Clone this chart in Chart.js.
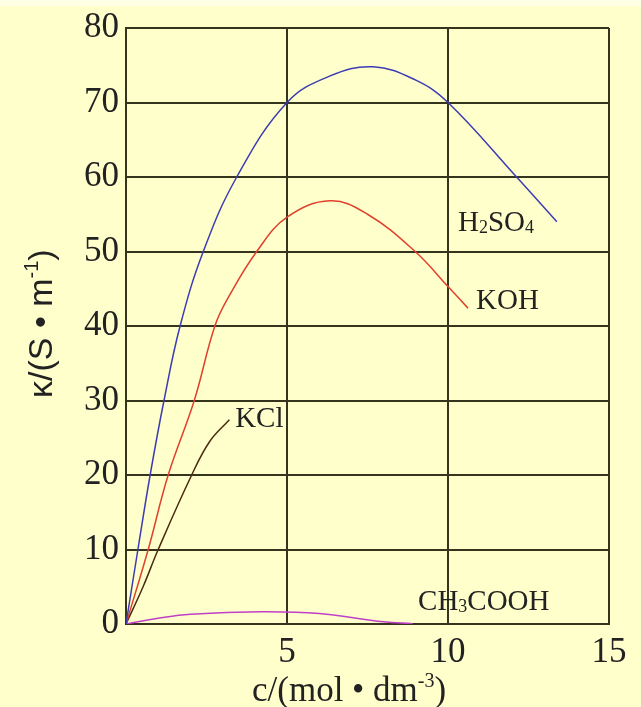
<!DOCTYPE html>
<html>
<head>
  <title>Conductivity vs concentration</title>
  <script src="https://cdn.jsdelivr.net/npm/chart.js"></script>
  <style>
    body { margin: 0; background: #ffffcc; }
    canvas { display: block; }
  </style>
</head>
<body>
  <canvas id="kChart" width="641" height="707"></canvas>
  <script>
    // curves: c in mol/dm3, kappa in S/m
    const h2so4C = [0, 0.37, 0.75, 1.18, 1.68, 2.4, 3.44, 5.0, 6.3, 7.67, 9.0, 10.0, 12.13, 13.38];
    const h2so4K = [0, 10, 20, 30, 40, 50, 60, 70, 73.5, 74.8, 73, 70, 60, 54];
    const kohC = [0, 0.69, 1.31, 2.12, 2.76, 3.2, 4.06, 5.0, 6.34, 7.5, 8.98, 10.0, 10.62];
    const kohK = [0, 10, 20, 30, 40, 44, 50, 54.6, 56.8, 55, 50, 45.3, 42.4];
    const kclC = [0, 0.53, 1.0, 2.04, 2.6, 3.21];
    const kclK = [0, 5, 10, 20, 24.5, 27.4];
    const acC = [0, 1.0, 2.0, 4.2, 6.0, 8.0, 8.9];
    const acK = [0, 0.76, 1.3, 1.64, 1.4, 0.3, 0.05];

    const xTicks = [5, 10, 15];
    const yTicks = [0, 10, 20, 30, 40, 50, 60, 70, 80];

    // curve labels: [parts, c, kappa] where parts are [text, isSubscript]
    const curveLabels = [
      [[['H', false], ['2', true], ['SO', false], ['4', true]], 10.31, 52.7],
      [[['KOH', false]], 10.87, 42.3],
      [[['KCl', false]], 3.39, 26.5],
      [[['CH', false], ['3', true], ['COOH', false]], 9.07, 1.86]
    ];

    const serif = '"Liberation Serif", "DejaVu Serif", serif';
    Chart.defaults.font.family = serif;

    const toPoints = (xs, ys) => xs.map((x, i) => ({ x: x, y: ys[i] }));

    function drawParts(ctx, parts, x, y, size) {
      parts.forEach(p => {
        const s = p[1] ? size * 0.62 : size;
        ctx.font = s + 'px ' + serif;
        ctx.fillText(p[0], x, p[1] ? y + size * 0.05 : y);
        x += ctx.measureText(p[0]).width;
      });
    }

    const decorPlugin = {
      id: 'decor',
      beforeDraw(chart) {
        const ctx = chart.ctx;
        ctx.save();
        ctx.fillStyle = '#ffffcc';
        ctx.fillRect(0, 0, chart.width, chart.height);
        ctx.fillStyle = '#ffffe4';
        ctx.fillRect(0, 0, chart.width, 6);
        ctx.restore();
      },
      afterDraw(chart) {
        const ctx = chart.ctx;
        const xs = chart.scales.x, ys = chart.scales.y;
        ctx.save();
        ctx.fillStyle = '#222';
        ctx.textAlign = 'left';
        ctx.textBaseline = 'alphabetic';
        curveLabels.forEach(l => {
          drawParts(ctx, l[0], xs.getPixelForValue(l[1]), ys.getPixelForValue(l[2]), 29);
        });

        // x axis title with superscript
        let x = 252, y = 701;
        const xParts = [['c/(mol \u2022 dm', 35, 0], ['-3', 20, -14], [')', 35, 0]];
        xParts.forEach(p => {
          ctx.font = p[1] + 'px ' + serif;
          ctx.fillText(p[0], x, y + p[2]);
          x += ctx.measureText(p[0]).width;
        });

        // y axis title, rotated
        ctx.translate(52, 398);
        ctx.rotate(-Math.PI / 2);
        const sans = '"Liberation Sans", Arial, sans-serif';
        const yParts = [['\u03ba/(S \u2022 m', 34, 0], ['-1', 20, -14], [')', 34, 0]];
        x = 0;
        yParts.forEach(p => {
          ctx.font = p[1] + 'px ' + sans;
          ctx.fillText(p[0], x, p[2]);
          x += ctx.measureText(p[0]).width;
        });
        ctx.restore();
      }
    };

    const lineSet = (label, data, color) => ({
      label: label,
      data: data,
      borderColor: color,
      borderWidth: 1.5,
      pointRadius: 0,
      fill: false,
      showLine: true,
      tension: 0.4
    });

    const gridColor = '#35351e';
    const tickFont = { family: serif, size: 35 };

    new Chart(document.getElementById('kChart'), {
      type: 'scatter',
      data: {
        datasets: [
          lineSet('H2SO4', toPoints(h2so4C, h2so4K), '#3c3cb4'),
          lineSet('KOH', toPoints(kohC, kohK), '#e0402c'),
          lineSet('KCl', toPoints(kclC, kclK), '#4a2a12'),
          lineSet('CH3COOH', toPoints(acC, acK), '#c040c8')
        ]
      },
      options: {
        responsive: false,
        animation: false,
        layout: { padding: { top: 23, right: 32, left: 0, bottom: 0 } },
        plugins: { legend: { display: false }, tooltip: { enabled: false } },
        scales: {
          x: {
            type: 'linear',
            min: 0,
            max: 15,
            afterFit: s => { s.height = 83; },
            afterBuildTicks: s => { s.ticks = [0].concat(xTicks).map(v => ({ value: v })); },
            grid: { color: gridColor, lineWidth: 2, drawTicks: false },
            border: { color: gridColor, width: 2 },
            ticks: {
              color: '#222',
              font: tickFont,
              padding: 8,
              callback: v => (xTicks.includes(v) ? String(v) : '')
            }
          },
          y: {
            min: 0,
            max: 80,
            afterFit: s => { s.width = 126; },
            afterBuildTicks: s => { s.ticks = yTicks.map(v => ({ value: v })); },
            grid: { color: gridColor, lineWidth: 2, drawTicks: false },
            border: { color: gridColor, width: 2 },
            ticks: { color: '#222', font: tickFont, padding: 7 }
          }
        }
      },
      plugins: [decorPlugin]
    });
  </script>
</body>
</html>
